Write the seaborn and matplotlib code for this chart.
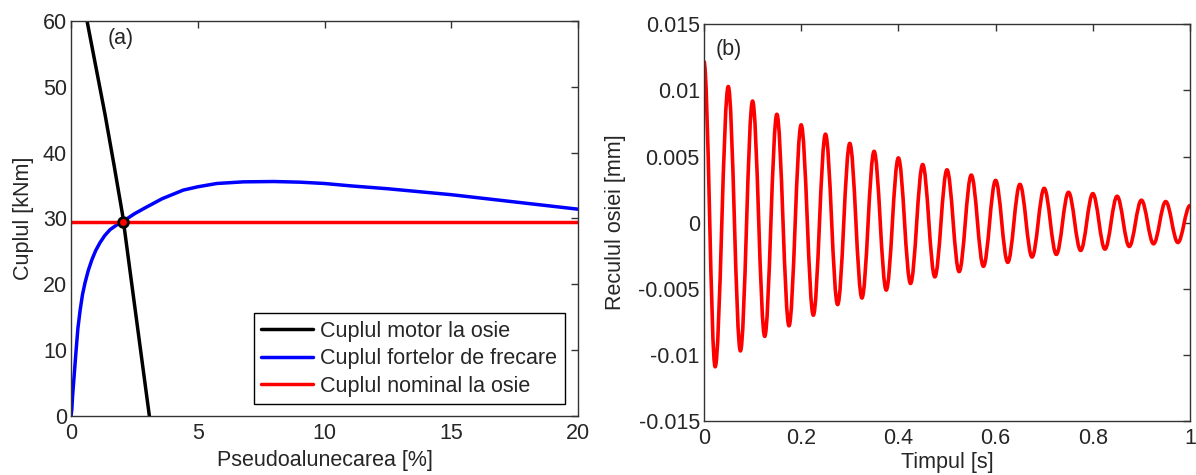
import matplotlib
matplotlib.use("Agg")
import matplotlib.pyplot as plt
import numpy as np
import pandas as pd
import seaborn as sns
from matplotlib.path import Path
from matplotlib.patches import PathPatch

# ---------------- data ----------------
# (a) torque vs pseudo-slip
slip_motor = [0.55, 0.63, 0.98, 1.34, 1.70, 2.03, 2.30, 2.57, 2.83, 3.09]
torque_motor = [62.0, 60.0, 53.0, 45.8, 38.0, 30.6, 22.8, 15.0, 7.5, 0.0]

slip_friction = [0.0, 0.03, 0.06, 0.12, 0.20, 0.27, 0.36, 0.45, 0.55, 0.68,
                 0.82, 0.97, 1.14, 1.33, 1.54, 1.80, 2.07, 2.50, 2.92, 3.6,
                 4.43, 5.0, 5.75, 6.8, 8.0, 9.04, 10.0, 11.0, 12.5, 15.0,
                 17.5, 20.0]
torque_friction = [0.0, 1.0, 3.0, 6.0, 10.0, 13.3, 16.1, 18.4, 20.2, 22.1,
                   23.7, 25.1, 26.3, 27.4, 28.3, 29.0, 29.6, 30.7, 31.6, 33.0,
                   34.3, 34.8, 35.3, 35.55, 35.6, 35.5, 35.3, 34.95, 34.5, 33.6,
                   32.5, 31.4]

slip_nominal = [0.0, 20.0]
torque_nominal = [29.5, 29.5]

op_slip = [2.05]
op_torque = [29.5]

labels_a = ["Cuplul motor la osie", "Cuplul fortelor de frecare", "Cuplul nominal la osie"]

# (b) axle recoil: successive extrema of the damped oscillation
t_ext = [0.0, 0.023, 0.05, 0.075, 0.10, 0.125, 0.15, 0.175, 0.20, 0.225,
         0.25, 0.275, 0.30, 0.325, 0.35, 0.375, 0.40, 0.425, 0.45, 0.475,
         0.50, 0.525, 0.55, 0.575, 0.60, 0.625, 0.65, 0.675, 0.70, 0.725,
         0.75, 0.775, 0.80, 0.825, 0.85, 0.875, 0.90, 0.925, 0.95, 0.975, 1.0]
recoil_ext = [0.0122, -0.0109, 0.0103, -0.0097, 0.0092, -0.0086, 0.0082, -0.0078, 0.0074, -0.0070,
              0.0067, -0.0062, 0.0060, -0.0057, 0.0054, -0.0051, 0.0049, -0.0046, 0.0044, -0.0041,
              0.0040, -0.0037, 0.0036, -0.0033, 0.0032, -0.0030, 0.0029, -0.0026, 0.0026, -0.0024,
              0.0023, -0.0021, 0.0022, -0.0020, 0.0020, -0.0018, 0.0017, -0.0016, 0.0016, -0.0015,
              0.0013]

yticks_b = [-0.015, -0.01, -0.005, 0, 0.005, 0.01, 0.015]
yticklabels_b = ["-0.015", "-0.01", "-0.005", "0", "0.005", "0.01", "0.015"]
xticks_b = [0, 0.2, 0.4, 0.6, 0.8, 1.0]
xticklabels_b = ["0", "0.2", "0.4", "0.6", "0.8", "1"]

# ---------------- style ----------------
sns.set_style("white")
plt.rcParams["font.family"] = ["Liberation Sans", "DejaVu Sans"]
plt.rcParams["font.size"] = 15
FRAME = "#333333"
FS = 15.5

fig = plt.figure(figsize=(11.96, 4.75), dpi=100)
ax1 = fig.add_axes([0.0594, 0.1242, 0.4239, 0.832])
ax2 = fig.add_axes([0.5886, 0.1137, 0.4064, 0.835])

for ax in (ax1, ax2):
    for s in ax.spines.values():
        s.set_color(FRAME)
        s.set_linewidth(1.0)
    ax.tick_params(direction="in", top=True, right=True, length=5, width=1,
                   color=FRAME, labelsize=FS)
    ax.tick_params(axis="x", pad=5)
    ax.tick_params(axis="y", pad=3)

# ---------------- panel (a) ----------------
df_m = pd.DataFrame({"x": slip_motor, "y": torque_motor})
df_f = pd.DataFrame({"x": slip_friction, "y": torque_friction})
df_n = pd.DataFrame({"x": slip_nominal, "y": torque_nominal})

sns.lineplot(data=df_m, x="x", y="y", ax=ax1, color="black", lw=2.5,
             sort=False, estimator=None, label=labels_a[0])
sns.lineplot(data=df_f, x="x", y="y", ax=ax1, color="#0000ff", lw=2.5,
             sort=False, estimator=None, label=labels_a[1])
sns.lineplot(data=df_n, x="x", y="y", ax=ax1, color="#ff0000", lw=2.5,
             sort=False, estimator=None, label=labels_a[2])
ax1.plot(op_slip, op_torque, "o", ms=7, mfc="#ff0000", mec="black", mew=2, zorder=5)

ax1.set_xlim(0, 20)
ax1.set_ylim(0, 60)
ax1.set_xticks([0, 5, 10, 15, 20])
ax1.set_yticks([0, 10, 20, 30, 40, 50, 60])
ax1.set_xlabel("Pseudoalunecarea [%]", fontsize=FS, labelpad=4)
ax1.set_ylabel("Cuplul [kNm]", fontsize=FS, labelpad=6)
ax1.text(1.45, 56.5, "(a)", fontsize=FS)

leg = ax1.legend(loc="lower right", bbox_to_anchor=(0.974, 0.030), borderaxespad=0,
                 fancybox=False, framealpha=1, edgecolor="black", fontsize=FS,
                 handlelength=2.4, handletextpad=0.35, labelspacing=0.3,
                 borderpad=0.35)
leg.get_frame().set_linewidth(1.0)

# ---------------- panel (b) ----------------
verts = [(t_ext[0], recoil_ext[0])]
codes = [Path.MOVETO]
for i in range(len(t_ext) - 1):
    t0, y0, t1, y1 = t_ext[i], recoil_ext[i], t_ext[i + 1], recoil_ext[i + 1]
    dt = t1 - t0
    verts += [(t0 + 0.36 * dt, y0), (t1 - 0.36 * dt, y1), (t1, y1)]
    codes += [Path.CURVE4] * 3
patch = PathPatch(Path(verts, codes), facecolor="none", edgecolor="#ff0000",
                  lw=2.6, transform=ax2.transData, capstyle="butt", joinstyle="round")
ax2.add_patch(patch)

ax2.set_xlim(0, 1)
ax2.set_ylim(-0.015, 0.015)
ax2.set_xticks(xticks_b)
ax2.set_xticklabels(xticklabels_b)
ax2.set_yticks(yticks_b)
ax2.set_yticklabels(yticklabels_b)
ax2.set_xlabel("Timpul [s]", fontsize=FS, labelpad=2)
ax2.set_ylabel("Reculul osiei [mm]", fontsize=FS, labelpad=9)
ax2.text(0.025, 0.0127, "(b)", fontsize=FS)

fig.savefig("out.png", dpi=100)
